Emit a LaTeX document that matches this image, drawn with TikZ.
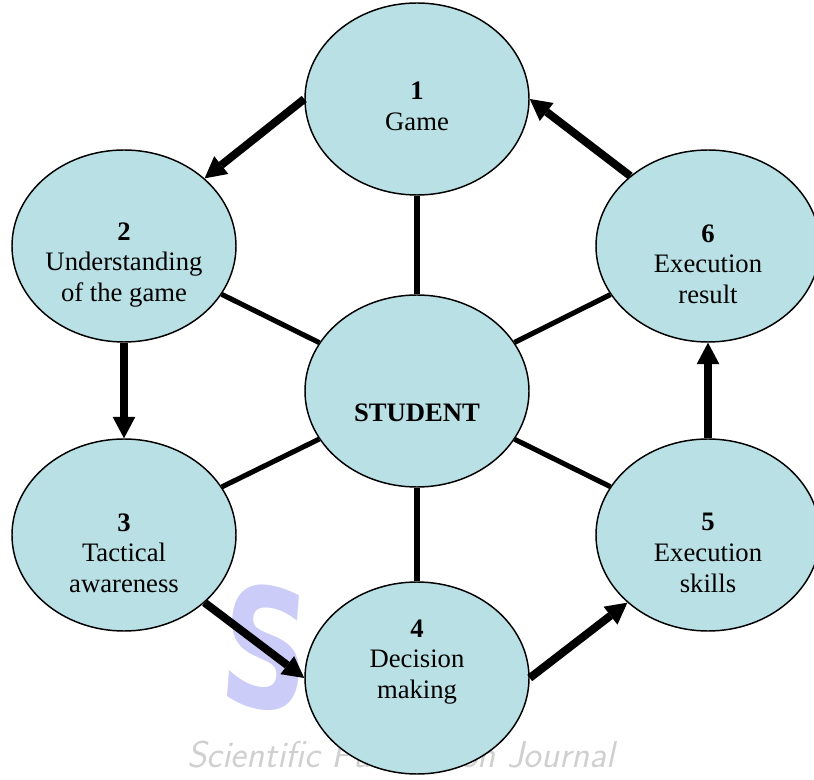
\documentclass[tikz,border=0pt]{standalone}
\usepackage{fontspec}
\setmainfont{Liberation Serif}
\newfontfamily\markfont{DejaVu Sans}
\usetikzlibrary{arrows.meta,shapes.geometric}

\definecolor{cellblue}{RGB}{185,224,228}
\definecolor{markgray}{RGB}{208,208,208}
\definecolor{marklilac}{RGB}{204,204,248}

\tikzset{
  stage/.style={ellipse, draw=black, line width=1.1pt, fill=cellblue,
    minimum width=168pt, minimum height=144pt, inner sep=0pt},
  caption/.style={align=center, font=\fontsize{20pt}{23pt}\selectfont},
  spoke/.style={line width=3.8pt},
  flow/.style={->, line width=6pt},
}

\begin{document}
\begin{tikzpicture}[x=0.75pt, y=-0.75pt,
  >={Triangle[length=16pt, width=17pt, line width=0pt]}]
\useasboundingbox (0,0) rectangle (814,780);

% journal mark in the background
\node[text=marklilac, font=\fontsize{124pt}{124pt}\markfont\bfseries,
  inner sep=0pt, text height=90pt, text depth=0pt, xscale=0.74, rotate=-6] (logo) at (266,648) {S};
\node[text=markgray, font=\fontsize{28pt}{28pt}\sffamily\itshape,
  inner sep=0pt, anchor=base west] (mark) at (187,767) {Scientific Publication Journal};

\node[stage] (student) at (417,391) {};
\node[stage] (game)    at (417,99)  {};
\node[stage] (underst) at (124,246) {};
\node[stage] (tactic)  at (124,535) {};
\node[stage] (decide)  at (417,678) {};
\node[stage] (skills)  at (708,535) {};
\node[stage] (result)  at (708,246) {};

\node[caption] (t-student) at (417,413) {\textbf{STUDENT}};
\node[caption] (t-game)    at (417,106) {\textbf{1}\\Game};
\node[caption] (t-underst) at (124,265) {\textbf{2}\\Understanding\\of the game};
\node[caption] (t-tactic)  at (124,553) {\textbf{3}\\Tactical\\awareness};
\node[caption] (t-decide)  at (417,662) {\textbf{4}\\Decision\\making};
\node[caption] (t-skills)  at (708,553) {\textbf{5}\\Execution\\skills};
\node[caption] (t-result)  at (708,264) {\textbf{6}\\Execution\\result};

% the student in the middle
\foreach \n in {game,underst,tactic,decide,skills,result}
  \draw[spoke] (student) -- (\n);

% the cycle round it
\draw[flow] (game.west) -- (underst.40);
\draw[flow] (underst.south) -- (tactic.north);
\draw[flow] (tactic.-40) -- (decide.west);
\draw[flow] (decide.east) -- (skills.220);
\draw[flow] (skills.north) -- (result.south);
\draw[flow] (result.138) -- (game.east);

\end{tikzpicture}
\end{document}
